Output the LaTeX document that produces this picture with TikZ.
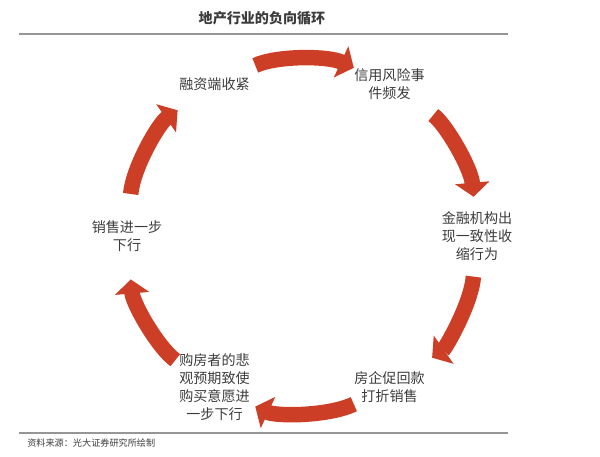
\documentclass[tikz,border=0pt]{standalone}
\usepackage{fontspec}
\setmainfont{Noto Sans CJK SC}
\usepackage{tikz}
\usetikzlibrary{arrows.meta}
\definecolor{cyclered}{RGB}{205,62,38}
\definecolor{textgrey}{RGB}{60,60,60}
\definecolor{rulegrey}{RGB}{150,150,150}

\begin{document}
\begin{tikzpicture}[x=0.025cm, y=0.025cm, >={Triangle[width=24pt,length=10pt]}]

			\tikzstyle{box}=[inner sep=0pt, text=textgrey, align=center, font=\fontsize{10}{12.8}\selectfont]
			\tikzstyle{headline}=[box, font=\bfseries\fontsize{10}{12}\selectfont]
			\tikzstyle{note}=[box, anchor=west, font=\fontsize{6.5}{8}\selectfont]
			\tikzstyle{rule}=[draw=rulegrey, line width=1.4pt]
			\tikzstyle{bigarrow}=[->, draw=cyclered, line width=11pt]

			\def \radius {175}

			\useasboundingbox (0,0) rectangle (600,456);

			\node at (262,438) (title) [headline] {地产行业的负向循环};
			\node at (27,13) (source) [note] {资料来源：光大证券研究所绘制};
			\draw[rule] (19,422) -- (508,422);
			\draw[rule] (19,23) -- (508,23);

			\begin{scope}[shift={(302,220)}]
			\node at ({-360/6 * (0) + 120}:\radius) (financing) [box] {融资端收紧};
			\node at ({-360/6 * (1) + 120}:\radius) (credit) [box] {信用风险事\\件频发};
			\node at ({-360/6 * (2) + 120}:\radius) (lenders) [box] {金融机构出\\现一致性收\\缩行为};
			\node at ({-360/6 * (3) + 120}:\radius) (discount) [box] {房企促回款\\打折销售};
			\node at ({-360/6 * (4) + 120}:\radius) (buyers) [box] {购房者的悲\\观预期致使\\购买意愿进\\一步下行};
			\node at ({-360/6 * (5) + 120}:\radius) (sales) [box] {销售进一步\\下行};
			\end{scope}

			\draw[bigarrow, shorten <=32pt, shorten >=28pt] (financing.center) to[bend left=25] (credit.center);
			\draw[bigarrow, shorten <=38pt, shorten >=28pt] (credit.center) to[bend left=25] (lenders.center);
			\draw[bigarrow, shorten <=29pt, shorten >=37pt] (lenders.center) to[bend left=25] (discount.center);
			\draw[bigarrow, shorten <=28pt, shorten >=32pt] (discount.center) to[bend left=25] (buyers.center);
			\draw[bigarrow, shorten <=34pt, shorten >=31pt] (buyers.center) to[bend left=25] (sales.center);
			\draw[bigarrow, shorten <=30pt, shorten >=32pt] (sales.center) to[bend left=25] (financing.center);
		\end{tikzpicture}
\end{document}
